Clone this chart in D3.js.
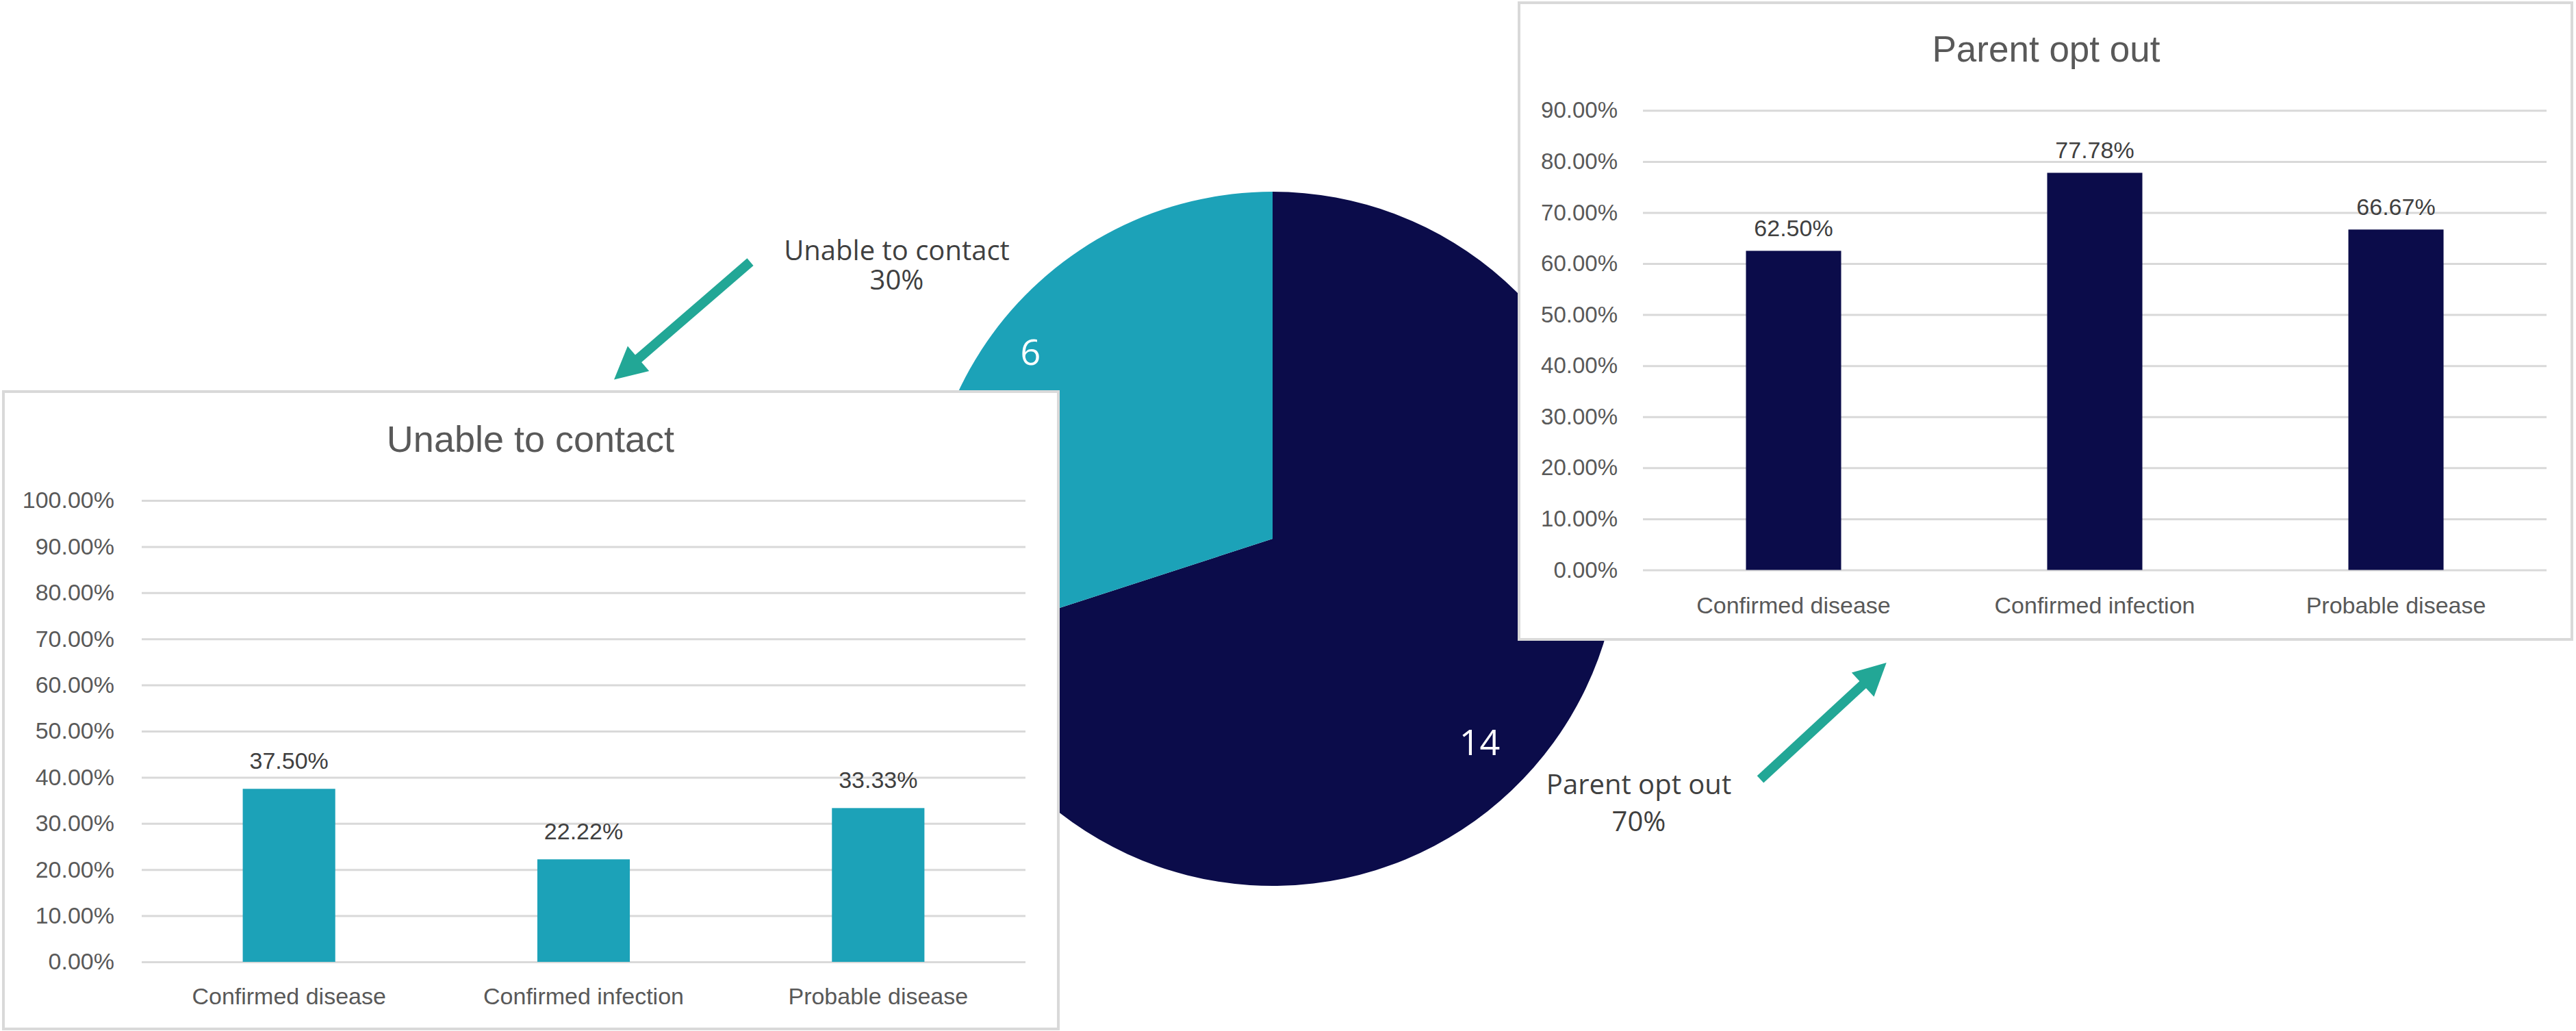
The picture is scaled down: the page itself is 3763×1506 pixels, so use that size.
<!DOCTYPE html>
<html>
<head>
<meta charset="utf-8">
<script src="https://cdn.jsdelivr.net/npm/d3@7"></script>
<style>
  html, body { margin: 0; padding: 0; background: #ffffff; }
  svg { display: block; }
</style>
</head>
<body>
<svg id="chart" width="3763" height="1506"></svg>
<script>
// ---------------- DATA ----------------
const pieCategories = ["Parent opt out", "Unable to contact"];
const pieValues = [14, 6];

const barCategories = ["Confirmed disease", "Confirmed infection", "Probable disease"];
const unableValues = [0.375, 0.2222, 0.3333];
const optOutValues = [0.625, 0.7778, 0.6667];

const unableTicks = [0, 0.1, 0.2, 0.3, 0.4, 0.5, 0.6, 0.7, 0.8, 0.9, 1.0];
const optOutTicks = [0, 0.1, 0.2, 0.3, 0.4, 0.5, 0.6, 0.7, 0.8, 0.9];

const unableTitle = "Unable to contact";
const optOutTitle = "Parent opt out";

// ---------------- STYLE ----------------
const NAVY = "#0b0c4a";
const TEAL = "#1ca2b8";
const ARROW = "#22a796";
const GRID = "#d9d9d9";
const TXT = "#595959";
const DARKTXT = "#404040";
const CHART_FONT = "'Liberation Sans', Arial, sans-serif";
const PIE_FONT = "'Open Sans', 'Noto Sans', sans-serif";

const svg = d3.select("#chart");
svg.append("rect").attr("width", 3763).attr("height", 1506).attr("fill", "#fff");

// ---------------- PIE ----------------
const pieCx = 1859, pieCy = 787, pieR = 507;
const pieColors = d3.scaleOrdinal().domain(pieCategories).range([NAVY, TEAL]);
const pieGen = d3.pie().sort(null).value(d => d.value);
const pieData = pieGen(pieCategories.map((c, i) => ({ cat: c, value: pieValues[i] })));
const arcGen = d3.arc().innerRadius(0).outerRadius(pieR);
const total = d3.sum(pieValues);

const pieG = svg.append("g").attr("transform", `translate(${pieCx},${pieCy})`);
pieG.selectAll("path").data(pieData).join("path")
  .attr("d", arcGen)
  .attr("fill", d => pieColors(d.data.cat));

// inside value labels
const labelRadius = { "Parent opt out": 424, "Unable to contact": 447 };
const labelShift = { "Parent opt out": 8.5 * Math.PI / 180, "Unable to contact": 1.7 * Math.PI / 180 };
pieG.selectAll("text.val").data(pieData).join("text")
  .attr("class", "val")
  .attr("x", d => {
    const a = (d.startAngle + d.endAngle) / 2 + labelShift[d.data.cat];
    return Math.sin(a) * labelRadius[d.data.cat];
  })
  .attr("y", d => {
    const a = (d.startAngle + d.endAngle) / 2 + labelShift[d.data.cat];
    return -Math.cos(a) * labelRadius[d.data.cat] + 19;
  })
  .attr("text-anchor", "middle")
  .attr("font-family", PIE_FONT)
  .attr("font-size", 52)
  .attr("fill", "#ffffff")
  .text(d => d.data.value);

// outside category labels
const pctFmt = d3.format(".0%");
const outLabels = [
  { cat: "Unable to contact", x: 1310, y1: 380, y2: 423 },
  { cat: "Parent opt out", x: 2394, y1: 1160, y2: 1214 }
];
outLabels.forEach(o => {
  const v = pieValues[pieCategories.indexOf(o.cat)];
  const t = svg.append("text")
    .attr("text-anchor", "middle")
    .attr("font-family", PIE_FONT)
    .attr("font-size", 40)
    .attr("fill", DARKTXT);
  t.append("tspan").attr("x", o.x).attr("y", o.y1).text(o.cat);
  t.append("tspan").attr("x", o.x).attr("y", o.y2).text(pctFmt(v / total));
});

// ---------------- BAR CHARTS ----------------
const fmt2 = d3.format(".2%");

function barChart(cfg) {
  const g = svg.append("g");
  g.append("rect")
    .attr("x", cfg.box[0]).attr("y", cfg.box[1])
    .attr("width", cfg.box[2]).attr("height", cfg.box[3])
    .attr("fill", "#ffffff")
    .attr("stroke", GRID).attr("stroke-width", 4);

  g.append("text")
    .attr("x", cfg.titleX).attr("y", cfg.titleY)
    .attr("text-anchor", "middle")
    .attr("font-family", CHART_FONT)
    .attr("font-size", cfg.titleSize)
    .attr("fill", TXT)
    .text(cfg.title);

  const x = d3.scaleBand().domain(barCategories)
    .range([cfg.x0, cfg.x1]).paddingInner(cfg.pad).paddingOuter(cfg.pad / 2);
  const y = d3.scaleLinear().domain([0, d3.max(cfg.ticks)]).range([cfg.y0, cfg.y1]);

  const yAxis = d3.axisLeft(y)
    .tickValues(cfg.ticks)
    .tickFormat(fmt2)
    .tickSizeInner(-(cfg.x1 - cfg.x0))
    .tickSizeOuter(0)
    .tickPadding(cfg.tickPad);
  const ag = g.append("g").attr("transform", `translate(${cfg.x0},0)`).call(yAxis);
  ag.select(".domain").remove();
  ag.selectAll(".tick line").attr("stroke", GRID).attr("stroke-width", 3);
  ag.selectAll(".tick text")
    .attr("font-family", CHART_FONT)
    .attr("font-size", cfg.tickSize)
    .attr("fill", TXT);

  g.selectAll("rect.bar").data(cfg.values).join("rect")
    .attr("class", "bar")
    .attr("x", (d, i) => x(barCategories[i]))
    .attr("width", x.bandwidth())
    .attr("y", d => y(d))
    .attr("height", d => y(0) - y(d))
    .attr("fill", cfg.color);

  g.selectAll("text.dl").data(cfg.values).join("text")
    .attr("class", "dl")
    .attr("x", (d, i) => x(barCategories[i]) + x.bandwidth() / 2)
    .attr("y", d => y(d) - cfg.dlOff)
    .attr("text-anchor", "middle")
    .attr("font-family", CHART_FONT)
    .attr("font-size", cfg.dlSize)
    .attr("fill", DARKTXT)
    .text(d => fmt2(d));

  g.selectAll("text.cat").data(barCategories).join("text")
    .attr("class", "cat")
    .attr("x", d => x(d) + x.bandwidth() / 2)
    .attr("y", cfg.catY)
    .attr("text-anchor", "middle")
    .attr("font-family", CHART_FONT)
    .attr("font-size", cfg.catSize)
    .attr("fill", TXT)
    .text(d => d);
}

barChart({
  box: [5, 572, 1541, 931],
  title: unableTitle, titleX: 775, titleY: 660, titleSize: 54,
  x0: 207, x1: 1498, y0: 1405, y1: 731, pad: 0.686,
  ticks: unableTicks, values: unableValues, color: TEAL,
  tickPad: 40, tickSize: 34, dlOff: 29, dlSize: 34, catY: 1467, catSize: 34
});

barChart({
  box: [2219, 4, 1538, 930],
  title: optOutTitle, titleX: 2989, titleY: 90, titleSize: 53,
  x0: 2400, x1: 3720, y0: 832.5, y1: 161.3, pad: 0.684,
  ticks: optOutTicks, values: optOutValues, color: NAVY,
  tickPad: 37, tickSize: 33, dlOff: 21, dlSize: 34, catY: 896, catSize: 34
});

// ---------------- ARROWS ----------------
function arrow(x1, y1, x2, y2) {
  const lw = 14, hl = 47, hw = 48;
  const dx = x2 - x1, dy = y2 - y1, L = Math.hypot(dx, dy);
  const ux = dx / L, uy = dy / L, px = -uy, py = ux;
  const bx = x2 - ux * hl, by = y2 - uy * hl;
  svg.append("line")
    .attr("x1", x1).attr("y1", y1)
    .attr("x2", bx + ux * 4).attr("y2", by + uy * 4)
    .attr("stroke", ARROW).attr("stroke-width", lw);
  svg.append("path")
    .attr("d", `M${x2},${y2}L${bx + px * hw / 2},${by + py * hw / 2}L${bx - px * hw / 2},${by - py * hw / 2}Z`)
    .attr("fill", ARROW);
}
arrow(1096, 382.6, 897, 554.5);
arrow(2571.5, 1138.4, 2755.7, 968.1);
</script>
</body>
</html>
